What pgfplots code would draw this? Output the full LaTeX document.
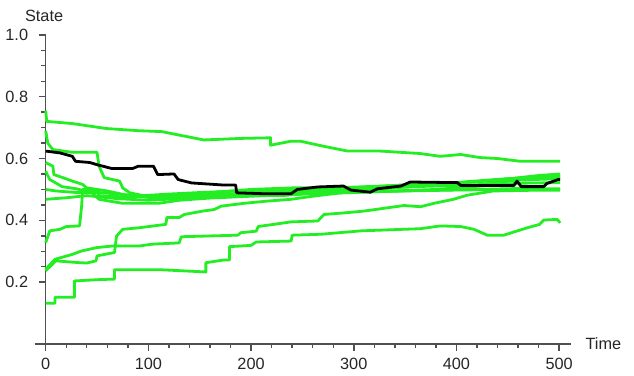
\documentclass[border=0pt]{standalone}
\usepackage{fontspec}
\setmainfont{Liberation Sans}
\usepackage{pgfplots}
\pgfplotsset{compat=1.18}
\definecolor{pg}{RGB}{35,238,35}
\definecolor{axc}{RGB}{80,80,80}
\begin{document}
\fontsize{8.2}{9.8}\selectfont
\begin{tikzpicture}
\begin{axis}[
 scale only axis, width=269bp, height=155.8bp,
 xmin=-10.7, xmax=511.7, ymin=-0.002, ymax=1.003,
 axis lines=middle,
 axis line style={-, draw=axc, line width=0.8bp},
 xtick={0,100,200,300,400,500}, minor x tick num=4,
 ytick={0.2,0.4,0.6,0.8,1.0}, yticklabels={0.2,0.4,0.6,0.8,1.0}, minor y tick num=3,
 hide obscured x ticks=false, hide obscured y ticks=false,
 tick align=outside,
 major tick length=3.4bp, minor tick length=2.1bp,
 major tick style={draw=axc, line width=0.8bp},
 minor tick style={draw=axc, line width=0.7bp},
 ticklabel style={font=\fontsize{8.2}{9.8}\selectfont, text=black!85},
 /pgf/number format/assume math mode=true,
 xticklabel style={yshift=-1bp},
 yticklabel style={xshift=-2.5bp},
 clip=false,
 every axis plot/.append style={line width=1.4bp, line join=round},
]
\coordinate (ll) at (rel axis cs:0,0);
\coordinate (xe) at (axis cs:511.7,0);
\coordinate (yt) at (axis cs:0,1.003);
% L1 top
\addplot[pg] coordinates {(0,0.755)(1,0.72)(26,0.713)(59,0.697)(90,0.69)(113,0.687)(154,0.66)(190,0.665)(219,0.667)(219,0.643)(239,0.656)(248,0.656)(270,0.64)(294,0.624)(326,0.624)(365,0.616)(384,0.607)(404,0.613)(423,0.603)(440,0.6)(462,0.591)(501,0.591)};
% L_a bottom
\addplot[pg] coordinates {(0,0.132)(9,0.132)(9,0.151)(28,0.151)(28,0.204)(50,0.208)(67,0.21)(67,0.24)(113,0.24)(132,0.237)(156,0.233)(156,0.263)(174,0.272)(179,0.272)(179,0.315)(200,0.319)(205,0.33)(239,0.333)(240,0.352)(268,0.355)(307,0.366)(365,0.373)(384,0.382)(404,0.38)(417,0.371)(430,0.352)(446,0.352)(469,0.376)(481,0.387)(485,0.401)(498,0.403)(501,0.392)};
% L_b
\addplot[pg] coordinates {(0,0.242)(9,0.274)(26,0.29)(35,0.301)(50,0.312)(65,0.317)(91,0.317)(104,0.323)(130,0.327)(132,0.347)(187,0.352)(190,0.36)(205,0.365)(207,0.38)(222,0.387)(239,0.395)(265,0.398)(271,0.419)(294,0.425)(310,0.43)(349,0.448)(365,0.444)(378,0.455)(397,0.468)(410,0.481)(436,0.495)(470,0.497)(501,0.497)};
% L_c
\addplot[pg] coordinates {(0,0.237)(10,0.269)(33,0.263)(40,0.262)(49,0.269)(50,0.285)(67,0.296)(69,0.349)(75,0.371)(91,0.376)(117,0.387)(118,0.409)(130,0.409)(135,0.419)(153,0.43)(164,0.435)(171,0.446)(193,0.455)(215,0.462)(239,0.468)(260,0.478)(290,0.49)(330,0.494)(370,0.497)(420,0.5)(460,0.503)(501,0.502)};
% L_d
\addplot[pg] coordinates {(0,0.69)(2,0.65)(7,0.629)(26,0.62)(50,0.62)(52,0.575)(57,0.538)(72,0.527)(75,0.505)(82,0.489)(95,0.48)(120,0.485)(150,0.49)(190,0.495)(230,0.5)(260,0.5)(300,0.505)(350,0.515)(400,0.52)(440,0.53)(470,0.54)(501,0.545)};
% L_e
\addplot[pg] coordinates {(0,0.587)(7,0.575)(8,0.548)(16,0.539)(26,0.527)(36,0.516)(40,0.505)(60,0.495)(75,0.484)(91,0.478)(110,0.47)(140,0.475)(170,0.48)(200,0.49)(240,0.495)(280,0.49)(320,0.5)(360,0.51)(410,0.525)(450,0.535)(501,0.54)};
% L_f
\addplot[pg] coordinates {(0,0.559)(4,0.532)(16,0.509)(30,0.502)(45,0.489)(52,0.468)(75,0.455)(110,0.455)(130,0.465)(160,0.472)(200,0.478)(250,0.485)(300,0.49)(340,0.495)(380,0.5)(420,0.51)(460,0.52)(501,0.522)};
% L_g
\addplot[pg] coordinates {(0,0.5)(10,0.495)(30,0.49)(50,0.49)(52,0.48)(80,0.475)(120,0.48)(160,0.49)(200,0.5)(240,0.505)(280,0.505)(320,0.51)(360,0.515)(400,0.52)(440,0.53)(480,0.545)(501,0.55)};
% L_h
\addplot[pg] coordinates {(0,0.328)(4,0.366)(14,0.371)(20,0.38)(33,0.382)(35,0.446)(36,0.5)(50,0.5)(52,0.49)(70,0.485)(100,0.475)(130,0.48)(170,0.485)(220,0.49)(270,0.495)(320,0.505)(370,0.51)(420,0.515)(460,0.53)(501,0.535)};
% L_i
\addplot[pg] coordinates {(0,0.468)(20,0.473)(40,0.48)(70,0.47)(100,0.465)(140,0.472)(190,0.482)(230,0.48)(270,0.49)(310,0.492)(350,0.495)(400,0.498)(450,0.5)(501,0.5)};
% black
\addplot[black] coordinates {(0,0.624)(14,0.618)(26,0.607)(29,0.591)(43,0.587)(50,0.58)(64,0.568)(85,0.568)(90,0.575)(105,0.575)(109,0.548)(125,0.55)(129,0.532)(142,0.521)(174,0.514)(185,0.514)(186,0.489)(213,0.486)(239,0.486)(245,0.5)(265,0.508)(290,0.511)(297,0.498)(316,0.491)(323,0.502)(346,0.511)(355,0.524)(401,0.522)(404,0.513)(456,0.513)(459,0.527)(463,0.509)(485,0.509)(488,0.519)(499,0.532)(501,0.532)};
\end{axis}
\node[anchor=west, inner sep=0pt, text=black!85] at ([xshift=7bp]xe) {Time};
\node[anchor=south, inner sep=0pt, text=black!85] at ([xshift=-0.8bp,yshift=5.8bp]yt) {State};
\path (ll) ++(-16.5bp,-13.2bp) rectangle ++(317bp,186bp);
\end{tikzpicture}
\end{document}
